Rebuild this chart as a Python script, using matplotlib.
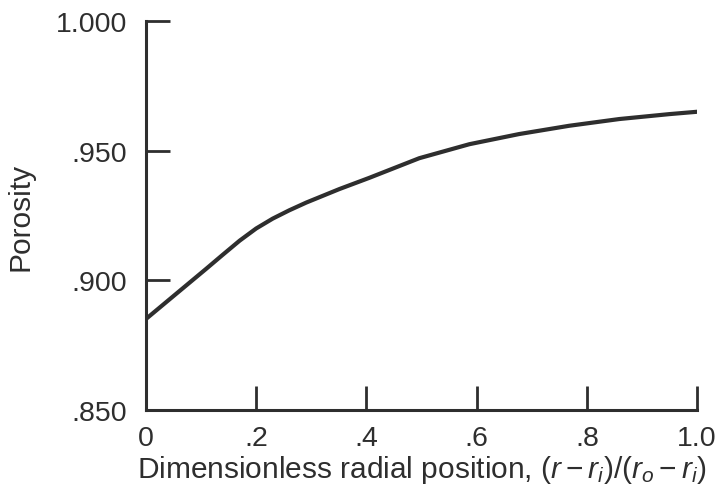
import matplotlib
matplotlib.use("Agg")
import matplotlib.pyplot as plt

plt.rcParams['font.family'] = ['Liberation Sans', 'DejaVu Sans']
plt.rcParams['mathtext.fontset'] = 'custom'
plt.rcParams['mathtext.rm'] = 'Liberation Sans'
plt.rcParams['mathtext.it'] = 'Liberation Sans:italic'

# Data
radial_position = [0.0, 0.048, 0.109, 0.139, 0.170, 0.200, 0.230, 0.260, 0.291,
                   0.351, 0.405, 0.496, 0.587, 0.677, 0.768, 0.859, 0.950, 1.0]
porosity = [0.8851, 0.8936, 0.9044, 0.9098, 0.9153, 0.9200, 0.9238, 0.9270, 0.9300,
            0.9352, 0.9395, 0.9471, 0.9525, 0.9564, 0.9596, 0.9622, 0.9641, 0.9650]

x_ticks = [0, 0.2, 0.4, 0.6, 0.8, 1.0]
x_tick_labels = ['0', '.2', '.4', '.6', '.8', '1.0']
y_ticks = [0.85, 0.90, 0.95, 1.00]
y_tick_labels = ['.850', '.900', '.950', '1.000']

ink = '#2e2e2e'

fig = plt.figure(figsize=(7.18, 4.89), dpi=100)
ax = fig.add_axes([0.2033, 0.1595, 0.7675, 0.7955])
ax.plot(radial_position, porosity, color=ink, linewidth=3.0,
        solid_capstyle='round', solid_joinstyle='round')

ax.set_xlim(0, 1.0)
ax.set_ylim(0.85, 1.0)
ax.set_xticks(x_ticks)
ax.set_xticklabels(x_tick_labels)
ax.set_yticks(y_ticks)
ax.set_yticklabels(y_tick_labels)

for s in ['top', 'right']:
    ax.spines[s].set_visible(False)
for s in ['left', 'bottom']:
    ax.spines[s].set_linewidth(2.2)
    ax.spines[s].set_color(ink)
    ax.spines[s].set_capstyle('projecting')

ax.tick_params(axis='both', direction='in', length=17, width=2.0, color=ink,
               labelsize=20.5, labelcolor=ink)
ax.tick_params(axis='x', pad=11)
ax.tick_params(axis='y', pad=13.5)

ax.set_xlabel(r'Dimensionless radial position, $(r - r_i)/(r_o - r_i)$',
              fontsize=21.5, color=ink, labelpad=1)
ax.set_ylabel('Porosity', fontsize=21.5, color=ink)
ax.yaxis.set_label_coords(-0.203, 0.5)

fig.savefig('out.png', dpi=100, facecolor='white')
